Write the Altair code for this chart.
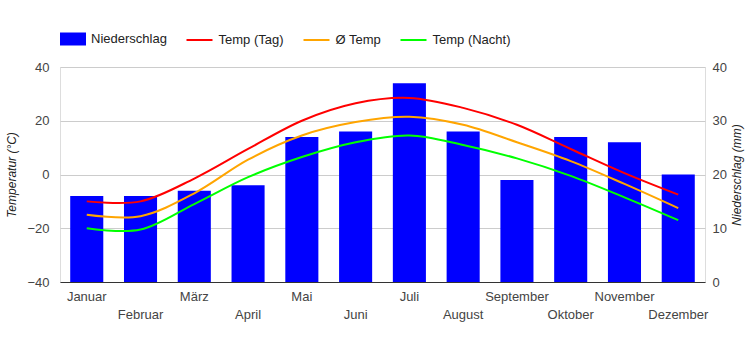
import json
import altair as alt
import pandas as pd

months = ["Januar", "Februar", "März", "April", "Mai", "Juni", "Juli",
          "August", "September", "Oktober", "November", "Dezember"]
precip = [16, 16, 17, 18, 27, 28, 37, 28, 19, 27, 26, 20]
t_day = [-10, -10, -1.5, 9.5, 20, 26.5, 28.5, 24.8, 18.5, 9.5, 0.5, -7.5]
t_mean = [-15, -15.5, -7, 5.5, 14.5, 19.5, 21.5, 18.5, 12, 5, -3.5, -12.5]
t_night = [-20, -20.5, -11, -1, 6.5, 12, 14.5, 11, 6, -0.5, -8.5, -17]

line_series = ["Temp (Tag)", "Ø Temp", "Temp (Nacht)"]
line_colors = ["#ff0000", "#ffa500", "#00ff00"]

df_bar = pd.DataFrame({"month": months, "precip": precip, "series": "Niederschlag"})
rows = []
for name, vals in zip(line_series, [t_day, t_mean, t_night]):
    for m, v in zip(months, vals):
        rows.append({"month": m, "temp": v, "series": name})
df_line = pd.DataFrame(rows)

FONT = "Liberation Sans, Arial, sans-serif"

label_expr = ("indexof(" + json.dumps(months, ensure_ascii=False) +
              ", datum.value) % 2 == 0 ? datum.value : ['', datum.value]")

x_enc = alt.X(
    "month:N", sort=months,
    scale=alt.Scale(paddingInner=0.385, paddingOuter=0.19),
    axis=alt.Axis(title=None, labelAngle=0, ticks=False, tickSize=0,
                  labelExpr=label_expr, labelLineHeight=18,
                  labelBaseline="top", labelPadding=8,
                  labelFontSize=13, labelColor="#444", labelFont=FONT,
                  domainColor="#333", domainWidth=1, grid=False, zindex=1),
)

bars = alt.Chart(df_bar).mark_bar().encode(
    x=x_enc,
    y=alt.Y("precip:Q",
            scale=alt.Scale(domain=[0, 40], nice=False),
            axis=alt.Axis(orient="right", values=[0, 10, 20, 30, 40],
                          title="Niederschlag (mm)", titleFontStyle="italic",
                          titleFontWeight="normal", titleFontSize=12,
                          titleColor="#222", titleFont=FONT,
                          titleAngle=270, titleBaseline="top", titlePadding=5,
                          labelFontSize=13, labelColor="#444", labelFont=FONT,
                          labelPadding=7, ticks=False, tickSize=0,
                          domain=False, grid=False)),
    color=alt.Color("series:N",
                    scale=alt.Scale(domain=["Niederschlag"], range=["#0000ff"]),
                    legend=alt.Legend(title=None, orient="none", legendX=0, legendY=-41,
                                      symbolType="M-1,-0.5H1V0.5H-1Z", symbolSize=676,
                                      symbolStrokeWidth=0, labelOffset=5,
                                      labelFontSize=13, labelColor="#222",
                                      labelFont=FONT, padding=0)),
)

lines = alt.Chart(df_line).mark_line(strokeWidth=2, interpolate="cardinal").encode(
    x=x_enc,
    y=alt.Y("temp:Q",
            scale=alt.Scale(domain=[-40, 40], nice=False),
            axis=alt.Axis(orient="left", values=[-40, -20, 0, 20, 40],
                          title="Temperatur (°C)", titleFontStyle="italic",
                          titleFontWeight="normal", titleFontSize=12,
                          titleColor="#222", titleFont=FONT,
                          titleAngle=270, titleBaseline="bottom", titlePadding=8,
                          labelFontSize=13, labelColor="#444", labelFont=FONT,
                          labelPadding=11, ticks=False, tickSize=0,
                          domain=False, grid=True, gridColor="#cccccc")),
    stroke=alt.Stroke("series:N",
                      sort=line_series,
                      scale=alt.Scale(domain=line_series, range=line_colors),
                      legend=alt.Legend(title=None, orient="none", legendX=125.5, legendY=-41,
                                        direction="horizontal", symbolType="stroke",
                                        symbolSize=676, symbolStrokeWidth=2,
                                        columnPadding=15, labelOffset=5,
                                        labelFontSize=13, labelColor="#222",
                                        labelFont=FONT, padding=0)),
    detail="series:N",
)

chart = alt.layer(bars, lines).resolve_scale(
    y="independent", color="independent", stroke="independent"
).properties(
    width=645, height=215, autosize="none",
    padding={"left": 60, "top": 67, "right": 45, "bottom": 68},
).configure_view(stroke=None).configure(font=FONT, background="white")

chart.save("out.html", embed_options={"renderer": "svg", "actions": False})
